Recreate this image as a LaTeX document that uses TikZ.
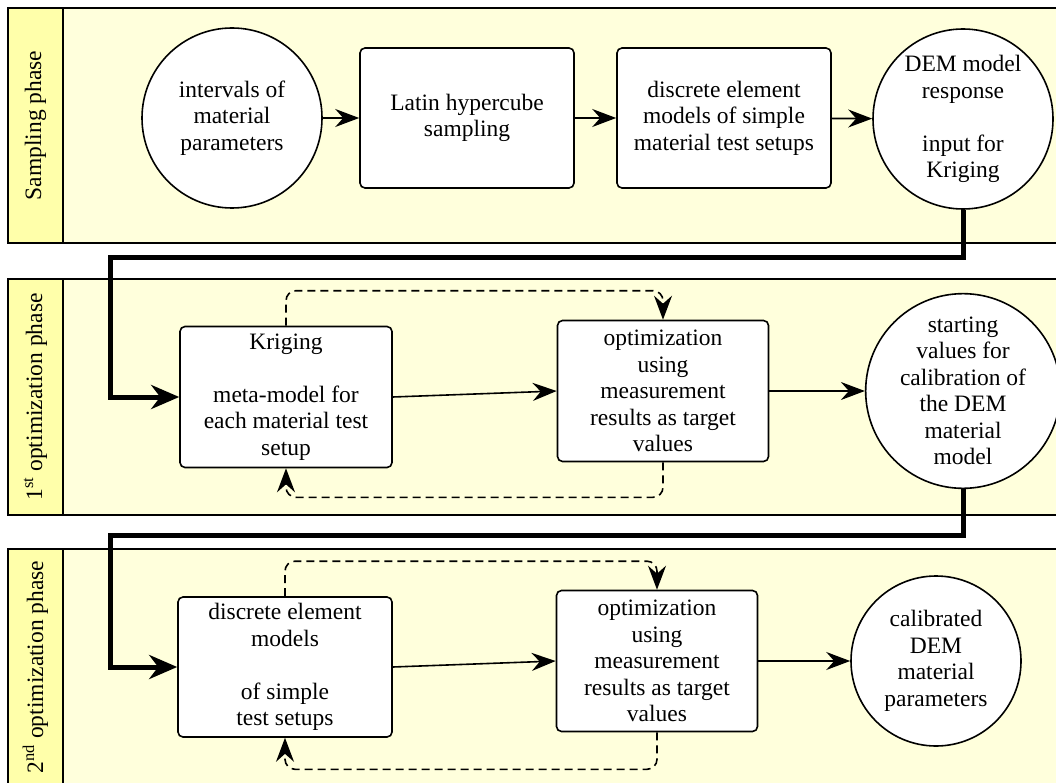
\documentclass[tikz,border=0pt]{standalone}
\usepackage{fontspec}
\setmainfont{Liberation Serif}
\usepackage{xcolor}
\usepackage{tikz}
\usetikzlibrary{calc, arrows.meta}

\definecolor{panel yellow}{RGB}{255,255,220}
\definecolor{strip yellow}{RGB}{255,255,170}

\begin{document}
\begin{tikzpicture}[x=1pt, y=-1pt,
		font=\fontsize{23.5}{26.5}\selectfont,
		phase/.style={draw, line width=1.5pt, fill=panel yellow},
		strip/.style={draw, line width=1.5pt, fill=strip yellow},
		stepbox/.style={draw, line width=1.6pt, fill=white, rounded corners=5pt, align=center, inner sep=0pt, minimum height=140pt},
		endpoint/.style={draw, circle, line width=1.6pt, fill=white, align=center, inner sep=0pt},
		flow/.style={-{Stealth[length=24pt, width=18pt, inset=8pt]}, line width=1.6pt},
		feedback/.style={flow, dash pattern=on 8pt off 5pt, rounded corners=10pt},
		handover/.style={-{Stealth[length=28pt, width=24pt, inset=9pt]}, line width=5pt}]
		\def\stripw{55};
		\def\lift{35};
		
		\clip (0,0) rectangle (1056,783);
		
		% phases
		\foreach \top/\bottom/\name in {8/243/Sampling phase, 279/515/1\textsuperscript{st} optimization phase, 549/785/2\textsuperscript{nd} optimization phase}
		{
			\draw[phase] (8,\top) rectangle (1080,\bottom);
			\draw[strip] (8,\top) rectangle ({8 + \stripw},\bottom);
			\node[rotate=90] at ({8 + \stripw/2},{(\top + \bottom)/2}) {\name};
		}
		
		% sampling phase
		\node[endpoint, minimum size=180pt] (intervals) at (232,118) {intervals of\\material\\parameters};
		\node[stepbox, minimum width=214pt] (latin) at (467,118) {Latin hypercube\\sampling};
		\node[stepbox, minimum width=214pt] (dem models) at (724,118) {discrete element\\models of simple\\material test setups};
		\node[endpoint, minimum size=180pt] (response) at (963,119) {DEM model\\response\\[\baselineskip]input for\\Kriging};
		
		% 1st optimization phase
		\node[stepbox, minimum width=212pt, minimum height=141pt] (kriging) at (286,397) {Kriging\\[\baselineskip]meta-model for\\each material test\\setup};
		\node[stepbox, minimum width=211pt, minimum height=141pt] (opt A) at (663,391) {optimization\\using\\measurement\\results as target\\values};
		\node[endpoint, minimum size=181pt] (start values) at (963,391) {starting\\values for\\calibration of\\the DEM\\material\\model};
		
		% 2nd optimization phase
		\node[stepbox, minimum width=214pt] (dem tests) at (285,667) {discrete element\\models\\[\baselineskip]of simple\\test setups};
		\node[stepbox, minimum width=201pt, minimum height=141pt] (opt B) at (657,661) {optimization\\using\\measurement\\results as target\\values};
		\node[endpoint, minimum size=170pt] (calibrated) at (936,661) {calibrated\\DEM\\material\\parameters};
		
		\coordinate (bend A) at (110,258);
		\coordinate (bend B) at (110,535);
		
		\begin{scope}[flow]
			\draw (intervals) -- (latin);
			\draw (latin) -- (dem models);
			\draw (dem models) -- (response);
			\draw (kriging.east) -- (opt A.west);
			\draw (opt A) -- (start values);
			\draw (dem tests.east) -- (opt B.west);
			\draw (opt B) -- (calibrated);
		\end{scope}
		
		\begin{scope}[feedback]
			\draw (kriging.north) -- ++(0,-\lift) -| (opt A.north);
			\draw (opt A.south) -- ++(0,\lift) -| (kriging.south);
			\draw (dem tests.north) -- ++(0,-\lift) -| (opt B.north);
			\draw (opt B.south) -- ++(0,37) -| (dem tests.south);
		\end{scope}
		
		\begin{scope}[handover]
			\draw (response.south) |- (bend A) |- (kriging.west);
			\draw (start values.south) |- (bend B) |- (dem tests.west);
		\end{scope}
	\end{tikzpicture}
\end{document}
